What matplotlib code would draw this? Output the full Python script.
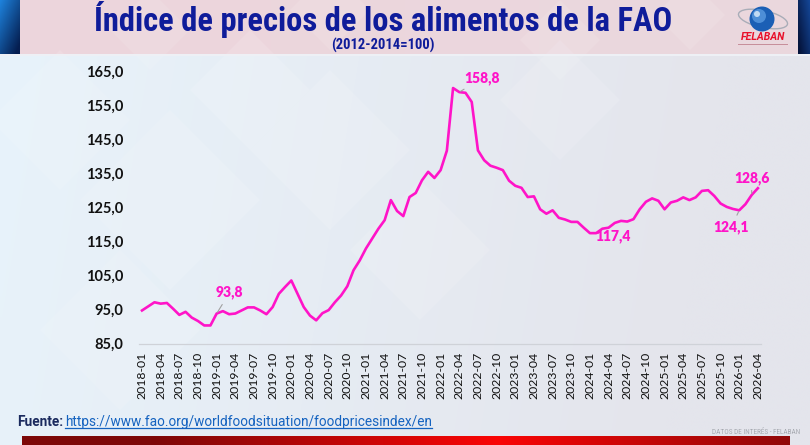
import numpy as np
import matplotlib
matplotlib.use("Agg")
import matplotlib.pyplot as plt
from matplotlib import font_manager as fm
from matplotlib.patches import Rectangle, Ellipse, Circle, Polygon

# ---------------- data ----------------
months = [str(p) for p in __import__("pandas").period_range("2018-01", "2026-04", freq="M")]
values = [
    94.7, 95.9, 97.1, 96.7, 96.9, 95.2, 93.4, 94.3, 92.6, 91.6, 90.3, 90.3,   # 2018
    93.8, 94.5, 93.6, 93.8, 94.7, 95.6, 95.6, 94.7, 93.6, 95.7, 99.6, 101.6,  # 2019
    103.5, 99.6, 95.7, 93.2, 91.8, 93.9, 94.8, 97.1, 99.1, 101.8, 106.5, 109.4,  # 2020
    112.9, 115.8, 118.7, 121.2, 127.1, 123.9, 122.4, 128.0, 129.2, 132.9, 135.4, 133.6,  # 2021
    135.9, 141.6, 160.0, 158.8, 158.6, 155.9, 141.7, 138.8, 137.2, 136.6, 135.9, 132.8,  # 2022
    131.3, 130.7, 128.0, 128.2, 124.4, 123.1, 124.1, 121.9, 121.4, 120.7, 120.7, 119.0,  # 2023
    117.4, 117.4, 118.7, 119.0, 120.4, 121.0, 120.8, 121.5, 124.4, 126.6, 127.6, 126.9,  # 2024
    124.4, 126.4, 126.9, 127.9, 127.1, 127.9, 129.8, 130.0, 128.3, 126.1, 125.1, 124.5,  # 2025
    124.1, 125.9, 128.6, 130.6,  # 2026
]
yticks = [85, 95, 105, 115, 125, 135, 145, 155, 165]
# annotated points: (index, text offset in pixels)
labels_idx = [12, 51, 73, 96, 98]
labels_off = [(13, 21), (23, 14), (17, -3), (-8, -17), (0, 17)]
labels_arrow = [True, True, False, True, True]

# ---------------- fonts ----------------
avail = {f.name for f in fm.fontManager.ttflist}
def pick(*names):
    for n in names:
        if n in avail:
            return n
    return "DejaVu Sans"
F_TITLE = pick("Liberation Sans Narrow", "Roboto Condensed", "Liberation Sans")
F_NUM = pick("Lato", "Open Sans", "DejaVu Sans")
F_FOOT = pick("Roboto", "Open Sans", "DejaVu Sans")

W, H = 810, 445
fig = plt.figure(figsize=(W / 100, H / 100), dpi=100)

# ---------------- background (pixel coords, y down) ----------------
bg = fig.add_axes([0, 0, 1, 1], zorder=-10)
bg.set_xlim(0, W); bg.set_ylim(H, 0); bg.axis("off")

xx = np.linspace(0, 1, 200)[None, :]
yy = np.linspace(0, 1, 120)[:, None]
c_left = np.array([232, 243, 251]) / 255
c_right = np.array([228, 229, 236]) / 255
t = np.clip(xx * 1.1 + yy * 0.1, 0, 1)[..., None]
img = c_left * (1 - t) + c_right * t
bg.imshow(img, extent=(0, W, H, 0), aspect="auto", interpolation="bilinear")

# faint diamond texture
for cx, cy, s in [(60, 120, 70), (170, 200, 90), (330, 150, 80), (120, 330, 80),
                  (420, 250, 70), (250, 90, 60), (560, 100, 60)]:
    bg.add_patch(Polygon([(cx, cy - s), (cx + s, cy), (cx, cy + s), (cx - s, cy)],
                         closed=True, facecolor="white", alpha=0.12, lw=0))

# header band
hx = np.linspace(0, 1, 200)[None, :]
hc1 = np.array([237, 213, 220]) / 255
hc2 = np.array([234, 216, 222]) / 255
himg = hc1 * (1 - hx[..., None]) + hc2 * hx[..., None]
himg = np.repeat(himg, 10, axis=0)
bg.imshow(himg, extent=(0, W, 54, 0), aspect="auto")
for cx, cy, s in [(150, 30, 40), (330, 10, 40), (560, 40, 40), (690, 15, 35)]:
    bg.add_patch(Polygon([(cx, cy - s), (cx + s, cy), (cx, cy + s), (cx - s, cy)],
                         closed=True, facecolor="white", alpha=0.10, lw=0))
bg.add_patch(Rectangle((0, 54), W, 2, facecolor="#eef0f5", lw=0))

# left blue strip
ly = np.linspace(0, 1, 60)[:, None]
lx = np.linspace(0, 1, 20)[None, :]
b1 = np.array([30, 130, 220]) / 255
b2 = np.array([5, 30, 80]) / 255
tt = np.clip(0.6 * ly + 0.5 * lx, 0, 1)[..., None]
bg.imshow(b1 * (1 - tt) + b2 * tt, extent=(0, 20, 54, 0), aspect="auto")
# right navy strip
ry = np.linspace(0, 1, 60)[:, None]
rx = np.linspace(0, 1, 12)[None, :]
tt = np.clip(0.5 * ry + 0.6 * (1 - rx), 0, 1)[..., None]
bg.imshow(np.array([20, 70, 150]) / 255 * (1 - tt) + np.array([5, 20, 60]) / 255 * tt,
          extent=(798, 810, 54, 0), aspect="auto")

# logo
bg.add_patch(Ellipse((763, 19), 50, 17, angle=12, facecolor="none", edgecolor="#a9adb8", lw=1.0))
bg.add_patch(Circle((762, 19), 12.5, facecolor="#1b5fb5", edgecolor="none"))
bg.add_patch(Circle((759, 16), 7, facecolor="#5a9be0", edgecolor="none", alpha=0.8))
bg.add_patch(Circle((757, 14), 3, facecolor="#cfe3f7", edgecolor="none", alpha=0.9))
bg.text(763, 37.5, "FELABAN", color="#e8102a", fontsize=7.6, fontweight="bold", style="italic",
        family=F_FOOT, ha="center", va="center")
bg.add_patch(Rectangle((738, 43.5), 50, 1.0, facecolor="#b06070", lw=0, alpha=0.6))

# titles
bg.text(383, 20, "Índice de precios de los alimentos de la FAO", color="#0f1c9a",
        fontsize=23.5, fontweight="bold", family=F_TITLE, ha="center", va="center")
bg.text(383, 45, "(2012-2014=100)", color="#0f1c9a", fontsize=10.5, fontweight="bold",
        family=F_TITLE, ha="center", va="center")

# footer
bg.text(17, 422, "Fuente:", color="#1b2a5e", fontsize=9.8, fontweight="bold", family=F_FOOT,
        ha="left", va="center")
link = bg.text(65, 422, "https://www.fao.org/worldfoodsituation/foodpricesindex/en", color="#1563c0",
               fontsize=9.8, family=F_FOOT, ha="left", va="center")
bg.text(800, 432, "DATOS DE INTERÉS - FELABAN", color="#a6a9b0", fontsize=5.2, family=F_TITLE,
        ha="right", va="center")
rx = np.linspace(0, 1, 300)
r_dark = np.array([125, 8, 8]) / 255
r_bright = np.array([250, 5, 5]) / 255
w = np.clip(1 - np.abs(rx - 0.62) / 0.45, 0, 1)[:, None]
rimg = (r_dark * (1 - w) + r_bright * w)[None, :, :]
rimg = np.repeat(rimg, 4, axis=0)
bg.imshow(rimg, extent=(22, 790, 445, 436), aspect="auto")
bg.set_xlim(0, W); bg.set_ylim(H, 0)

# ---------------- main chart ----------------
x0, x1 = 138.9, 761.0
y0, y1 = 343.5, 71.0
ax = fig.add_axes([x0 / W, 1 - y0 / H, (x1 - x0) / W, (y0 - y1) / H])
ax.set_facecolor("none")
xs = np.arange(len(values))
ax.plot(xs, values, color="#ff14c8", lw=1.9, solid_joinstyle="round", zorder=3)
ax.set_xlim(-0.5, len(values) - 0.5)
ax.set_ylim(yticks[0], yticks[-1])
ax.set_yticks(yticks)
ax.set_yticklabels([f"{v:.1f}".replace(".", ",") for v in yticks],
                   fontsize=10.5, fontweight="bold", family=F_NUM, color="#111111")
ax.set_xticks(xs[::3])
ax.set_xticklabels(months[::3], rotation=90, fontsize=8.8, family=F_NUM, color="#111111")
ax.tick_params(axis="both", length=0)
ax.tick_params(axis="y", pad=11.5)
ax.tick_params(axis="x", pad=6)
for s in ["top", "right", "left"]:
    ax.spines[s].set_visible(False)
ax.spines["bottom"].set_color("#cfd2d8")
ax.spines["bottom"].set_linewidth(0.9)

for i, off, arr in zip(labels_idx, labels_off, labels_arrow):
    txt = f"{values[i]:.1f}".replace(".", ",")
    ax.annotate(txt, xy=(i, values[i]), xytext=off, textcoords="offset pixels",
                ha="center", va="center", color="#ff14c8", fontsize=10, fontweight="heavy",
                family=F_NUM, zorder=4,
                arrowprops=dict(arrowstyle="-", color="#a0a0a0", lw=0.8, shrinkA=2, shrinkB=1)
                if arr else None)

# underline the link
fig.canvas.draw()
bb = link.get_window_extent()
inv = bg.transData.inverted()
(ax_l, yb), (ax_r, _) = inv.transform([(bb.x0, bb.y0), (bb.x1, bb.y0)])
bg.plot([ax_l, ax_r], [yb - 0.5, yb - 0.5], color="#1563c0", lw=0.9)
bg.set_xlim(0, W); bg.set_ylim(H, 0)

fig.savefig("out.png", dpi=100)
